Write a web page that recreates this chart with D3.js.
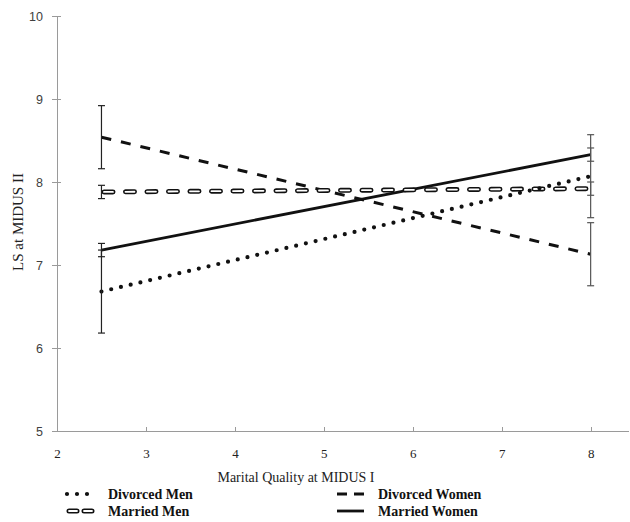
<!DOCTYPE html>
<html lang="en">
<head>
<meta charset="utf-8">
<title>LS at MIDUS II by Marital Quality</title>
<script src="https://d3js.org/d3.v7.min.js"></script>
<style>
  html, body { margin: 0; padding: 0; background: #fff; }
  .axis path, .axis line { stroke: #9a9a9a; stroke-width: 1px; shape-rendering: crispEdges; }
  .y.axis text { font-family: "Liberation Sans", Arial, sans-serif; font-size: 12.5px; fill: #404040; }
  .x.axis text { font-family: "Liberation Serif", "Times New Roman", serif; font-size: 13px; fill: #222; }
  .title { font-family: "Liberation Serif", "Times New Roman", serif; font-size: 14px; fill: #222; }
  .ytitle { font-size: 15px; }
  .legend text { font-family: "Liberation Serif", "Times New Roman", serif; font-size: 14px; font-weight: bold; fill: #111; }
</style>
</head>
<body>
<script>
// data
var xPoints = [2.5, 8];
var divorcedMen = [6.68, 8.07];
var marriedMen = [7.88, 7.92];
var divorcedWomen = [8.54, 7.13];
var marriedWomen = [7.18, 8.33];
var divorcedMenErr = [0.50, 0.50];
var marriedMenErr = [0.08, 0.08];
var divorcedWomenErr = [0.38, 0.38];
var marriedWomenErr = [0.08, 0.08];
var xTicks = [2, 3, 4, 5, 6, 7, 8];
var yTicks = [5, 6, 7, 8, 9, 10];

var width = 630, height = 522;

var svg = d3.select("body").append("svg")
  .attr("width", width).attr("height", height);

var x = d3.scaleLinear().domain([2, 8.42]).range([57, 628]);
var y = d3.scaleLinear().domain([5, 10]).range([431, 16]);

// axes
svg.append("g").attr("class", "axis y")
  .attr("transform", "translate(57,0)")
  .call(d3.axisLeft(y).tickValues(yTicks).tickSize(5).tickSizeOuter(0).tickPadding(9).tickFormat(d3.format("d")))
  .call(function(g) {
    g.selectAll(".tick line").attr("x1", 4).attr("x2", -5);
  });

svg.append("g").attr("class", "axis x")
  .attr("transform", "translate(0,431)")
  .call(d3.axisBottom(x).tickValues(xTicks).tickSizeOuter(0).tickPadding(12).tickFormat(d3.format("d")))
  .call(function(g) {
    g.selectAll(".tick line").attr("y1", 0).attr("y2", -4);
  });

svg.append("text").attr("class", "title ytitle")
  .attr("text-anchor", "middle")
  .attr("transform", "translate(23,222) rotate(-90)")
  .text("LS at MIDUS II");

svg.append("text").attr("class", "title")
  .attr("text-anchor", "middle")
  .attr("x", 296).attr("y", 482)
  .text("Marital Quality at MIDUS I");

var line = d3.line()
  .x(function(d) { return x(d[0]); })
  .y(function(d) { return y(d[1]); });

function pts(vals) { return xPoints.map(function(v, i) { return [v, vals[i]]; }); }

// divorced women - dashed
svg.append("path").attr("d", line(pts(divorcedWomen)))
  .attr("fill", "none").attr("stroke", "#111").attr("stroke-width", 3)
  .attr("stroke-dasharray", "10 10");

// married women - solid
svg.append("path").attr("d", line(pts(marriedWomen)))
  .attr("fill", "none").attr("stroke", "#111").attr("stroke-width", 2.8);

// married men - double outlined dashes
svg.append("path").attr("d", line(pts(marriedMen)))
  .attr("fill", "none").attr("stroke", "#111").attr("stroke-width", 5)
  .attr("stroke-linecap", "round").attr("stroke-dasharray", "9 12.5")
  .attr("stroke-dashoffset", -2.5);
svg.append("path").attr("d", line(pts(marriedMen)))
  .attr("fill", "none").attr("stroke", "#fff").attr("stroke-width", 1.8)
  .attr("stroke-linecap", "round").attr("stroke-dasharray", "9 12.5")
  .attr("stroke-dashoffset", -2.5);

// divorced men - dotted
svg.append("path").attr("d", line(pts(divorcedMen)))
  .attr("fill", "none").attr("stroke", "#111").attr("stroke-width", 4.2)
  .attr("stroke-linecap", "round").attr("stroke-dasharray", "0 10");

// error bars
var errSeries = [
  [divorcedWomen, divorcedWomenErr],
  [marriedWomen, marriedWomenErr],
  [marriedMen, marriedMenErr],
  [divorcedMen, divorcedMenErr]
];
var bars = svg.append("g");
errSeries.forEach(function(s) {
  xPoints.forEach(function(xv, i) {
    var col = i === 0 ? "#222" : "#555";
    var lo = s[0][i] - s[1][i], hi = s[0][i] + s[1][i];
    bars.append("line")
      .attr("x1", x(xv)).attr("x2", x(xv))
      .attr("y1", y(lo)).attr("y2", y(hi))
      .attr("stroke", col).attr("stroke-width", 1.2);
    [lo, hi].forEach(function(v) {
      bars.append("line")
        .attr("x1", x(xv) - 3.5).attr("x2", x(xv) + 3.5)
        .attr("y1", y(v)).attr("y2", y(v))
        .attr("stroke", col).attr("stroke-width", 1.2);
    });
  });
});

// legend
var legend = svg.append("g").attr("class", "legend");
var lx1 = 67, lx2 = 337, ry1 = 494, ry2 = 511;

legend.append("line").attr("x1", lx1).attr("x2", lx1 + 30).attr("y1", ry1).attr("y2", ry1)
  .attr("stroke", "#111").attr("stroke-width", 4.2).attr("stroke-linecap", "round")
  .attr("stroke-dasharray", "0 10");
legend.append("text").attr("x", 108).attr("y", ry1 + 5).text("Divorced Men");

legend.append("line").attr("x1", lx1 + 2).attr("x2", lx1 + 30).attr("y1", ry2).attr("y2", ry2)
  .attr("stroke", "#111").attr("stroke-width", 5).attr("stroke-linecap", "round")
  .attr("stroke-dasharray", "8 7");
legend.append("line").attr("x1", lx1 + 2).attr("x2", lx1 + 30).attr("y1", ry2).attr("y2", ry2)
  .attr("stroke", "#fff").attr("stroke-width", 1.8).attr("stroke-linecap", "round")
  .attr("stroke-dasharray", "8 7");
legend.append("text").attr("x", 108).attr("y", ry2 + 5).text("Married Men");

legend.append("line").attr("x1", lx2).attr("x2", lx2 + 27).attr("y1", ry1).attr("y2", ry1)
  .attr("stroke", "#111").attr("stroke-width", 3).attr("stroke-dasharray", "10 7");
legend.append("text").attr("x", 378).attr("y", ry1 + 5).text("Divorced Women");

legend.append("line").attr("x1", lx2).attr("x2", lx2 + 27).attr("y1", ry2).attr("y2", ry2)
  .attr("stroke", "#111").attr("stroke-width", 2.8);
legend.append("text").attr("x", 378).attr("y", ry2 + 5).text("Married Women");
</script>
</body>
</html>
